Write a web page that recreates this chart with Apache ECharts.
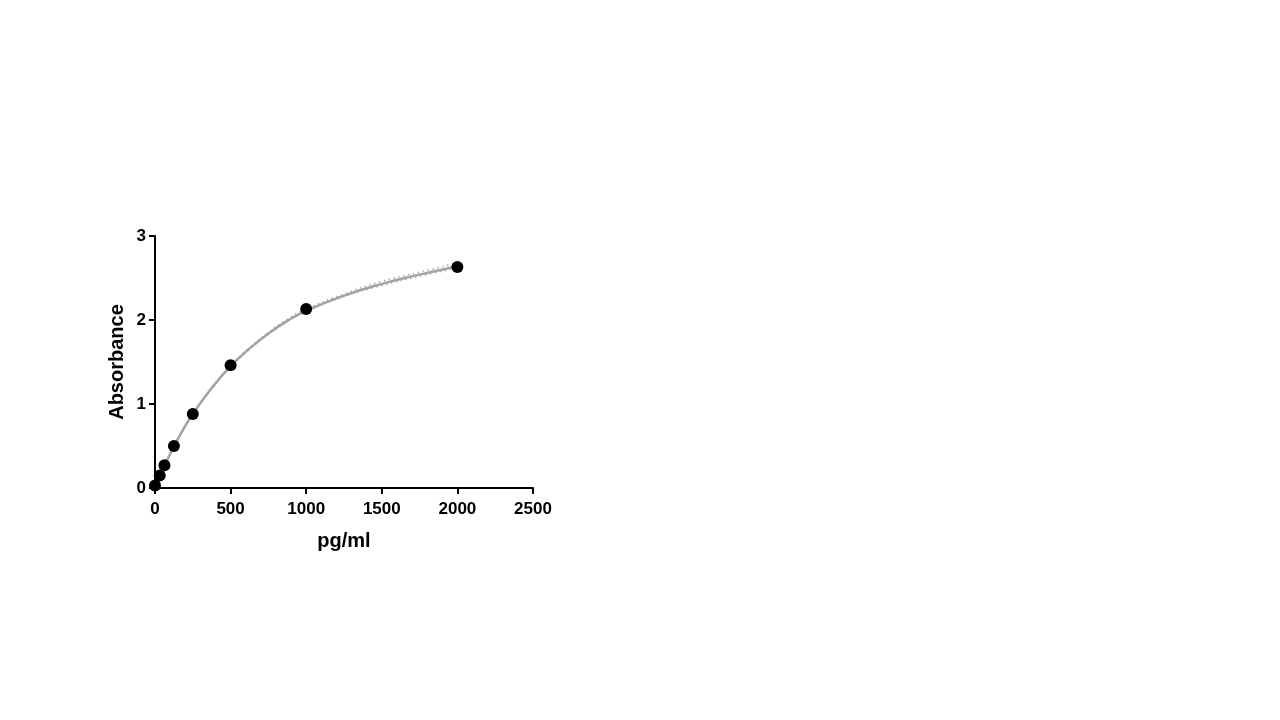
<!DOCTYPE html>
<html>
<head>
<meta charset="utf-8">
<script src="https://cdn.jsdelivr.net/npm/echarts@6/dist/echarts.min.js"></script>
<style>html,body{margin:0;padding:0;background:#fff;}#c{width:1280px;height:720px;}</style>
</head>
<body>
<div id="c"></div>
<script>
// Standard points
const concX = [0, 31.25, 62.5, 125, 250, 500, 1000, 2000];
const absY  = [0.03, 0.15, 0.27, 0.50, 0.88, 1.46, 2.13, 2.63];
// Fitted curve
const curveX = [0, 31.25, 62.5, 125, 187.5, 250, 375, 500, 625, 750, 875, 1000, 1250, 1500, 1750, 2000];
const curveY = [0.03, 0.15, 0.27, 0.49, 0.70, 0.88, 1.19, 1.45, 1.66, 1.84, 1.99, 2.11, 2.29, 2.43, 2.54, 2.64];
// Confidence band (dotted)
const upperY = [0.03, 0.15, 0.27, 0.50, 0.71, 0.89, 1.20, 1.46, 1.67, 1.85, 2.01, 2.13, 2.31, 2.46, 2.57, 2.68];
const lowerY = [0.03, 0.15, 0.27, 0.48, 0.69, 0.87, 1.18, 1.44, 1.65, 1.83, 1.98, 2.10, 2.28, 2.41, 2.52, 2.62];
const xTicks = [0, 500, 1000, 1500, 2000, 2500];
const yTicks = [0, 1, 2, 3];

const pairs = (xs, ys) => xs.map((x, i) => [x, ys[i]]);
const font = 'Liberation Sans, Arial, sans-serif';

const chart = echarts.init(document.getElementById('c'));
chart.setOption({
  animation: false,
  backgroundColor: '#fff',
  grid: { left: 155, right: 747, top: 236, bottom: 232 },
  xAxis: {
    type: 'value', min: xTicks[0], max: xTicks[xTicks.length - 1], interval: 500,
    name: 'pg/ml', nameLocation: 'middle', nameGap: 43,
    nameTextStyle: { fontFamily: font, fontWeight: 'bold', fontSize: 20, color: '#000' },
    axisLine: { lineStyle: { color: '#000', width: 2 } },
    axisTick: { show: true, length: 6, lineStyle: { color: '#000', width: 2 } },
    axisLabel: { fontFamily: font, fontWeight: 'bold', fontSize: 17, color: '#000', margin: 13,
      formatter: v => String(v) },
    splitLine: { show: false }
  },
  yAxis: {
    type: 'value', min: yTicks[0], max: yTicks[yTicks.length - 1], interval: 1,
    name: 'Absorbance', nameLocation: 'middle', nameGap: 28, nameRotate: 90,
    nameTextStyle: { fontFamily: font, fontWeight: 'bold', fontSize: 20, color: '#000' },
    axisLine: { lineStyle: { color: '#000', width: 2 } },
    axisTick: { show: true, length: 6, lineStyle: { color: '#000', width: 2 } },
    axisLabel: { fontFamily: font, fontWeight: 'bold', fontSize: 17, color: '#000', margin: 9,
      formatter: v => String(v) },
    splitLine: { show: false }
  },
  series: [
    { type: 'line', data: pairs(curveX, upperY), smooth: true, showSymbol: false, silent: true,
      lineStyle: { color: '#a8a8a8', width: 1.5, type: [1.5, 3.5] } },
    { type: 'line', data: pairs(curveX, lowerY), smooth: true, showSymbol: false, silent: true,
      lineStyle: { color: '#a8a8a8', width: 1.5, type: [1.5, 3.5] } },
    { type: 'line', data: pairs(curveX, curveY), smooth: true, showSymbol: false, silent: true,
      lineStyle: { color: '#a3a3a3', width: 2.5 } },
    { type: 'scatter', data: pairs(concX, absY), symbol: 'circle', symbolSize: 12, clip: false,
      itemStyle: { color: '#000', opacity: 1 }, z: 5 }
  ]
});
</script>
</body>
</html>
